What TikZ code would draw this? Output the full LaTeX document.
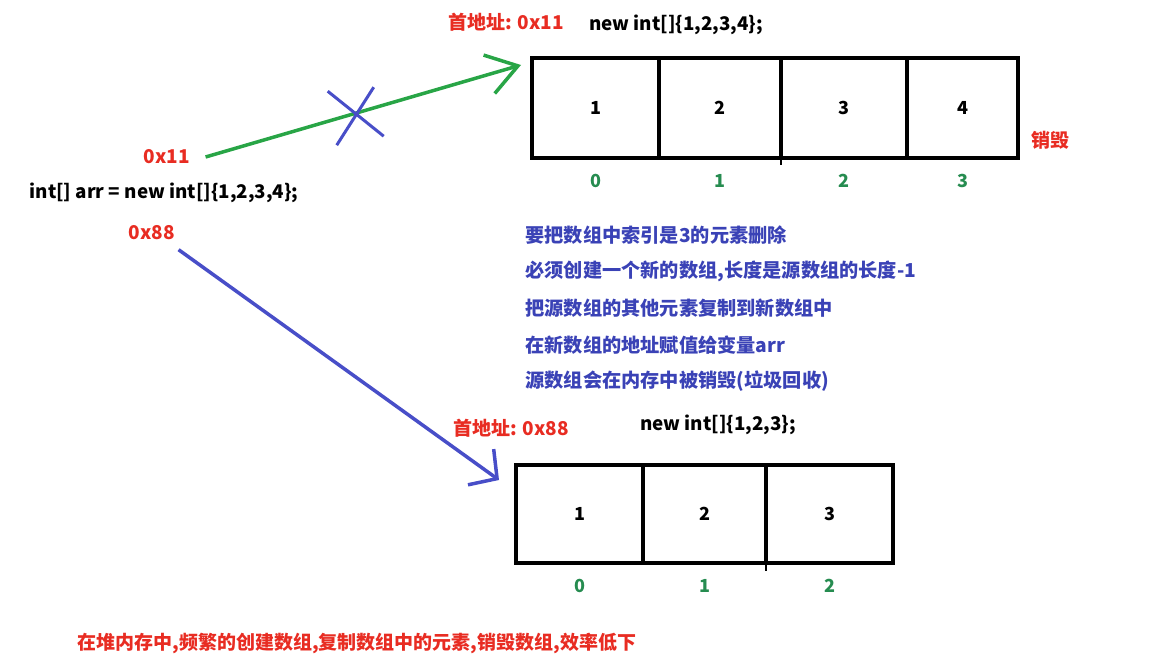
\documentclass[tikz,border=0pt]{standalone}
\usepackage{fontspec}
\setmainfont{Noto Sans CJK SC}
\usepackage{xcolor}
\usetikzlibrary{positioning, arrows.meta, calc}

\definecolor{addrred}{RGB}{232,44,34}
\definecolor{idxgreen}{RGB}{38,140,80}
\definecolor{noteblue}{RGB}{58,66,182}
\definecolor{oldgreen}{RGB}{40,165,70}
\definecolor{newblue}{RGB}{72,78,200}

\begin{document}
\begin{tikzpicture}[
    x=1pt, y=-1pt,
    cell/.style={draw, line width=3.5pt, minimum height=100pt, inner sep=0pt, outer sep=0pt, font=\fontsize{18}{21}\selectfont\bfseries},
    addr/.style={text=addrred, font=\fontsize{19}{22}\selectfont\bfseries},
    code/.style={font=\fontsize{18.8}{22}\selectfont\bfseries},
    idx/.style={text=idxgreen, font=\fontsize{18}{21}\selectfont\bfseries},
    note/.style={text=noteblue, anchor=west, font=\fontsize{19.2}{22}\selectfont\bfseries},
    refold/.style={draw=oldgreen, line width=3.5pt, -{Straight Barb[length=30pt, width=40pt]}},
    refnew/.style={draw=newblue, line width=3.5pt, -{Straight Barb[length=20pt, width=44pt]}},
    cross/.style={draw=newblue, line width=3pt}
]
\useasboundingbox (0,0) rectangle (1164,666);

% Old array 0x11
\node[cell, minimum width=127pt] (a0) at (595.5,108) {1};
\node[cell, minimum width=122pt, right=0pt of a0] (a1) {2};
\node[cell, minimum width=126pt, right=0pt of a1] (a2) {3};
\node[cell, minimum width=111pt, right=0pt of a2] (a3) {4};
\draw[line width=2.5pt] (a1.south east) -- ++(0,7);
\foreach \i in {0,...,3}
  \node[idx, below=13pt of a\i] (ia\i) {\i};
\node[addr] (head11) at (506,22) {首地址: 0x11};
\node[code] (newold) at (676,25) {new int[]\{1,2,3,4\};};
\node[addr] (kill) at (1050,140) {销毁};

% Variable arr
\node[addr] (p11) at (167,157) {0x11};
\node[code] (decl) at (164,193) {int[] arr = new int[]\{1,2,3,4\};};
\node[addr] (p88) at (152,233) {0x88};

% Old reference (cut)
\coordinate (tipold) at ([xshift=-11pt, yshift=-7pt]a0.north west);
\draw[refold] ([xshift=12pt]p11.east) -- coordinate[pos=0.476] (cut) (tipold);
\draw[cross] ($(cut)+(-28,-22)$) -- ($(cut)+(28,23)$);
\draw[cross] ($(cut)+(18,-26)$) -- ($(cut)+(-19,32)$);

% Steps
\node[note] (s1) at (522,235) {要把数组中索引是3的元素删除};
\node[note] (s2) at (522,271) {必须创建一个新的数组,长度是源数组的长度-1};
\node[note] (s3) at (522,308) {把源数组的其他元素复制到新数组中};
\node[note] (s4) at (522,345) {在新数组的地址赋值给变量arr};
\node[note] (s5) at (522,381) {源数组会在内存中被销毁(垃圾回收)};

% New array 0x88
\node[cell, minimum width=127pt, minimum height=98pt] (b0) at (579.5,514) {1};
\node[cell, minimum width=123pt, minimum height=98pt, right=0pt of b0] (b1) {2};
\node[cell, minimum width=127pt, minimum height=98pt, right=0pt of b1] (b2) {3};
\draw[line width=2.5pt] (b1.south east) -- ++(0,8);
\foreach \i in {0,...,2}
  \node[idx, below=13pt of b\i] (ib\i) {\i};
\node[addr] (head88) at (511,428) {首地址: 0x88};
\node[code] (newnew) at (718,425) {new int[]\{1,2,3\};};

% New reference
\coordinate (tipnew) at ([xshift=-17pt, yshift=-15pt]b0.north west);
\draw[refnew] ([yshift=-6pt]p88.south east) -- (tipnew);

% Remark
\node[addr, anchor=west] (remark) at (74,643) {在堆内存中,频繁的创建数组,复制数组中的元素,销毁数组,效率低下};

\end{tikzpicture}
\end{document}
